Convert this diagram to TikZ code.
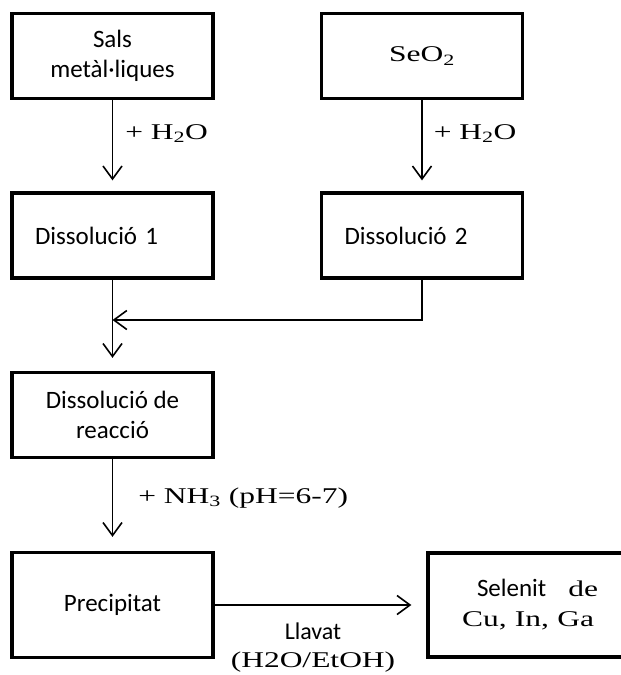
\documentclass[tikz,border=0pt]{standalone}
\usepackage{fontspec}
\setmainfont{Carlito}
\newfontfamily\chem[FakeStretch=1.4]{Liberation Serif}
\newcommand{\quimic}[1]{{\chem\fontsize{22.5}{30}\selectfont #1}}
\usetikzlibrary{arrows.meta}

\begin{document}
\begin{tikzpicture}[x=1pt, y=-1pt,
    caixa/.style={draw, line width=3.3pt, minimum width=201pt, minimum height=85pt, inner sep=2pt, align=center, font=\fontsize{25}{30}\selectfont},
    fletxa/.style={-{Straight Barb[length=13pt,width=19pt]}, line width=1.6pt},
    reactiu/.style={inner sep=0pt}]

        \useasboundingbox (0,0) rectangle (621,675);

        \node[caixa] (sals) at (112.5, 56) {Sals\\metàl·liques};
        \node[caixa] (seo) at (422, 56) {\quimic{SeO\textsubscript{2}}};
        \node[caixa, text width=155pt, align=left, inner xsep=23pt] (dis1) at (112.5, 235.5) {Dissolució 1};
        \node[caixa, text width=155pt, align=left, inner xsep=23pt] (dis2) at (422, 235.5) {Dissolució 2};
        \node[caixa] (reac) at (112.5, 415) {Dissolució de\\reacció};
        \node[caixa, minimum height=105pt] (prec) at (112.5, 605) {Precipitat};
        \node[caixa, text width=170pt, align=left, inner xsep=34pt, minimum height=104pt] (sel) at (547, 605) {\hspace*{15pt}Selenit\hspace{22pt}\quimic{de}\\\quimic{Cu, In, Ga}};

        \coordinate (unio) at (112.5, 320);

        % \draw[fletxa] (dis1) to (unio);
        \draw[fletxa, shorten >=11pt] (sals) to node[reactiu, right, xshift=12pt, pos=0.37]{\quimic{+ H\textsubscript{2}O}} (dis1);
        \draw[fletxa, shorten >=11pt] (seo) to node[reactiu, right, xshift=11pt, pos=0.37]{\quimic{+ H\textsubscript{2}O}} (dis2);
        \draw[fletxa, shorten >=13pt] (dis1) to (reac);
        \draw[fletxa] (dis2.south) |- (unio);
        \draw[fletxa, shorten >=14pt] (reac) to node[reactiu, right, xshift=25pt, pos=0.42]{\quimic{+ NH\textsubscript{3} (pH=6-7)}} (prec);
        \draw[fletxa] (prec) to node[reactiu, below=17pt, align=center, font=\fontsize{24}{28}\selectfont]{Llavat\\{\chem\fontsize{22.5}{28}\selectfont (H2O/EtOH)}} ([xshift=-15pt]sel.west);

    \end{tikzpicture}
\end{document}
